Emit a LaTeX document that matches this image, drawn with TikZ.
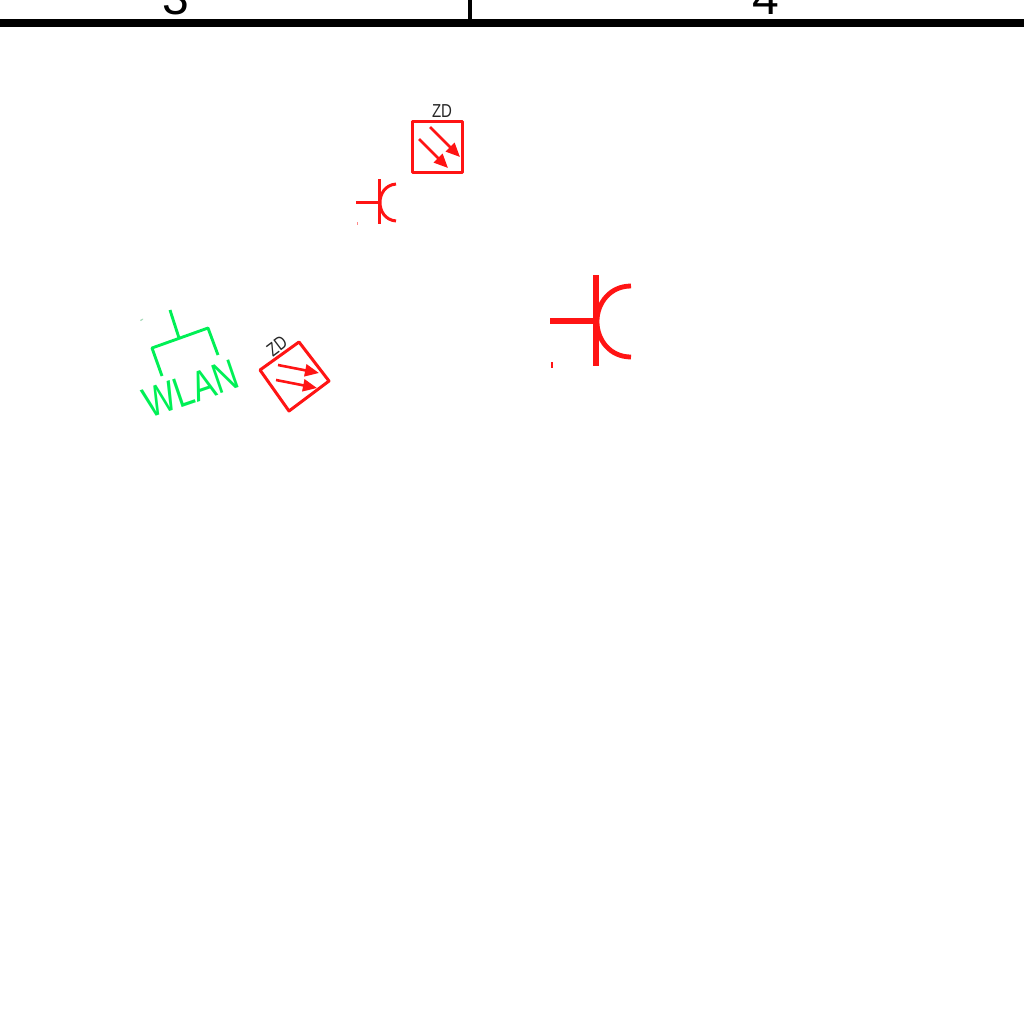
\documentclass[tikz,border=0pt]{standalone}
\usepackage{fontspec}
\setmainfont{Liberation Sans}
\usetikzlibrary{arrows.meta}
\definecolor{symred}{RGB}{255,20,20}
\definecolor{symgreen}{RGB}{0,240,85}
\tikzset{
  x=0.5pt,y=-0.5pt,
  redline/.style={draw=symred,line width=1.5pt},
  boxline/.style={draw=symred,line width=1.5pt,line join=round},
  redarrow/.style={draw=symred,line width=1.3pt,-{Triangle[length=7pt,width=6pt,fill=symred]}},
  greenline/.style={draw=symgreen,line width=1.45pt,line join=round},
  rule/.style={draw=black},
  digit/.style={font=\fontsize{24}{24}\selectfont,anchor=base,inner sep=0pt},
  zdlabel/.style={font=\fontsize{7.5}{9}\selectfont,inner sep=0pt,text=black!85}
}
\begin{document}
\begin{tikzpicture}
\useasboundingbox (0,0) rectangle (1024,1024);
\begin{scope}
\clip (0,0) rectangle (1024,1024);
\node[digit] (three) at (175.5,14) {3};
\node[digit] (four) at (765.5,14) {4};
\end{scope}
\draw[rule,line width=4pt] (0,23) -- (1024,23);
\draw[rule,line width=2pt] (470,0) -- (470,20);
% upper ZD box
\node[zdlabel] (zdone) at (442,111) {\scalebox{1}[1.25]{ZD}};
\draw[boxline] (412,121) rectangle (462,172);
\draw[redarrow] (430,127) -- (460,157);
\draw[redarrow] (419,139) -- (448,168);
% small plug
\draw[redline] (356,202) -- (379,202);
\draw[redline] (379,179) -- (379,224);
\draw[redline] (396,184) .. controls (385,185) and (380,194) .. (380,202.5) .. controls (380,211) and (385,220) .. (396,221);
\fill[symred!50] (356.5,222) rectangle (357.5,225);
% large plug
\draw[symred,line width=3pt] (550,321) -- (596,321);
\draw[symred,line width=2.7pt] (596,275) -- (596,366);
\draw[symred,line width=2.4pt] (631,286) .. controls (610,286) and (597,303) .. (597,321.5) .. controls (597,340) and (610,357) .. (631,357);
\fill[symred] (551,362) rectangle (553,368);
% WLAN
\draw[greenline] (170,310) -- (179,338);
\draw[greenline] (162,376) -- (152,348) -- (208,328) -- (218,355);
\node[font=\fontsize{17}{17}\selectfont,text=symgreen,rotate=19,inner sep=0pt] (wlan) at (191,389) {\scalebox{1}[1.25]{WLAN}};
\fill[symgreen!45!gray!50] (140,320) -- (143,318.5) -- (143,319.5) -- (141,321) -- cycle;
% rotated ZD box
\node[zdlabel,rotate=37] (zdtwo) at (277,346) {\scalebox{1}[1.25]{ZD}};
\draw[boxline] (260,370) -- (299,342) -- (329,381) -- (289,411) -- cycle;
\draw[redarrow] (278,365) -- (319,373);
\draw[redarrow] (276,380) -- (317,388);
\end{tikzpicture}
\end{document}
